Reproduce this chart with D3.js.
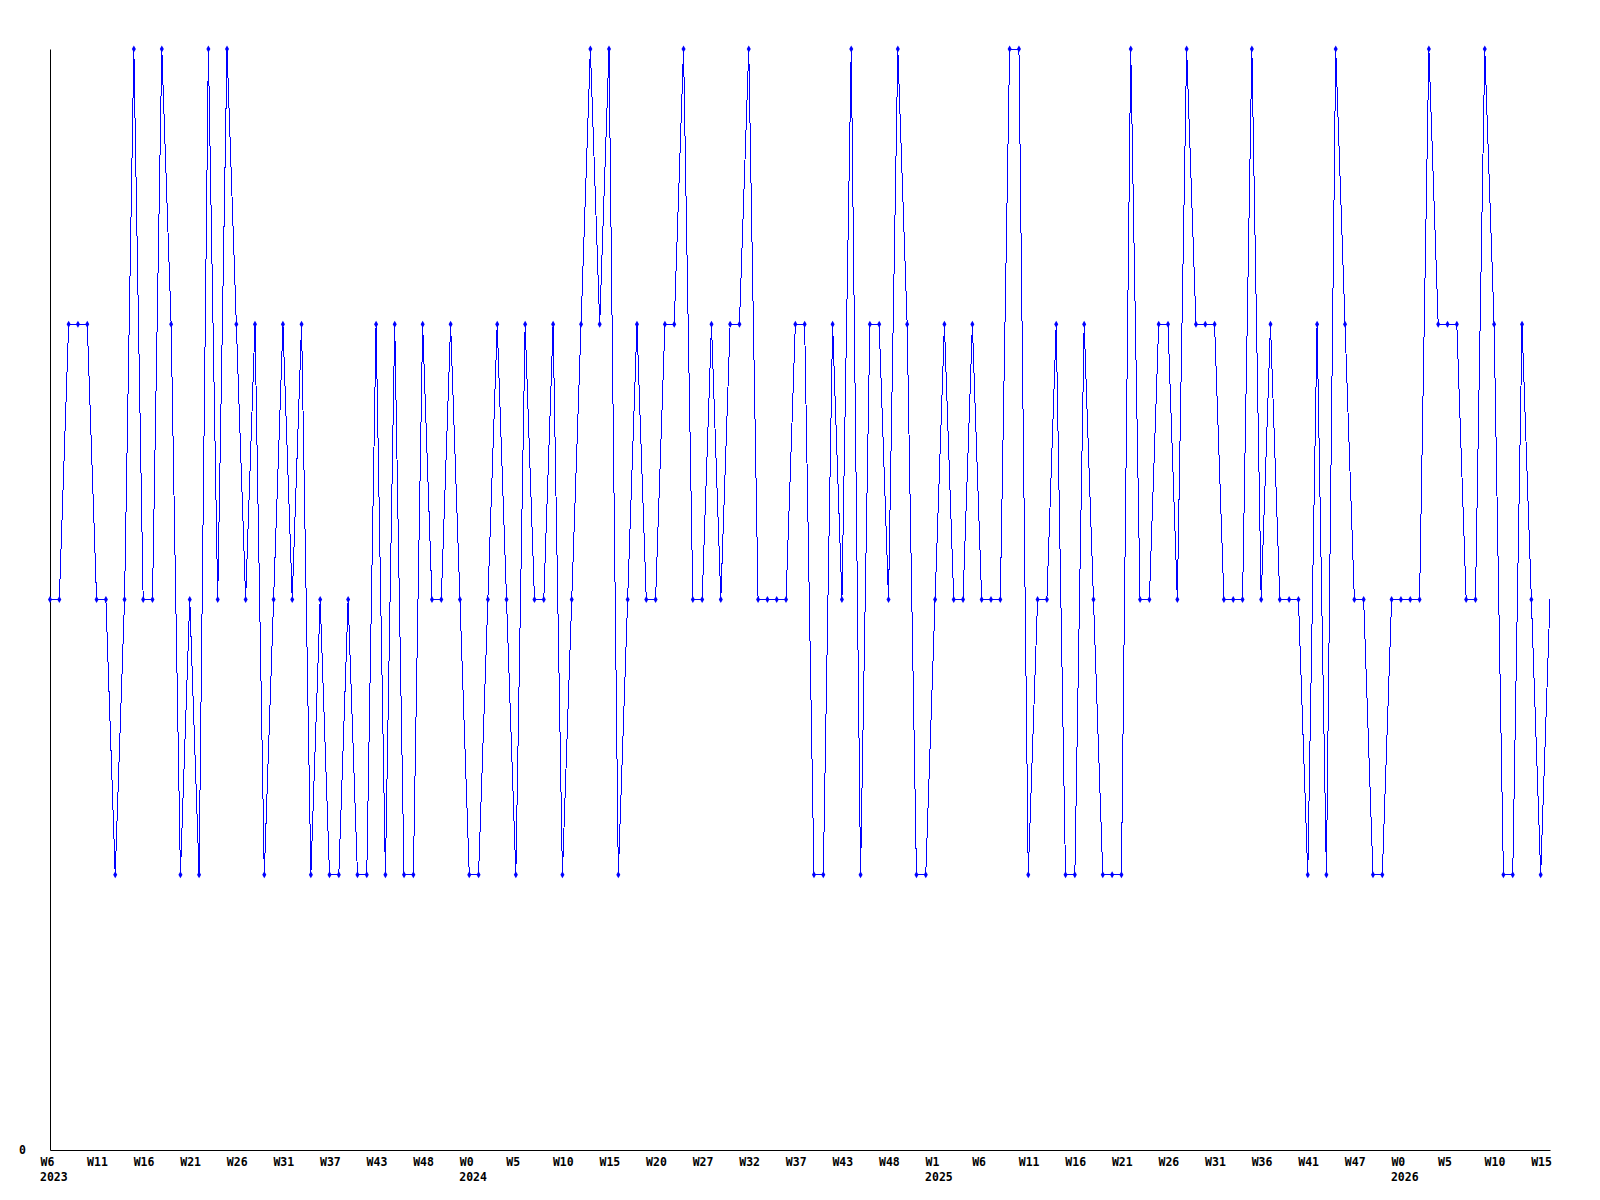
<!DOCTYPE html>
<html>
<head>
<meta charset="utf-8">
<script src="https://d3js.org/d3.v7.min.js"></script>
<style>
  body { margin: 0; background: #fff; }
  text { font-family: "DejaVu Sans Mono", monospace; font-weight: bold; font-size: 11.5px; fill: #000; }
</style>
</head>
<body>
<script>
// weekly values, one per point
var values = [
  2,2,3,3,3,2,2,1,2,4, 2,2,4,3,1,2,1,4,2,4,
  3,2,3,1,2,3,2,3,1,2, 1,1,2,1,1,3,1,3,1,1,
  3,2,2,3,2,1,1,2,3,2, 1,3,2,2,3,1,2,3,4,3,
  4,1,2,3,2,2,3,3,4,2, 2,3,2,3,3,4,2,2,2,2,
  3,3,1,1,3,2,4,1,3,3, 2,4,3,1,1,2,3,2,2,3,
  2,2,2,4,4,1,2,2,3,1, 1,3,2,1,1,1,4,2,2,3,
  3,2,4,3,3,3,2,2,2,4, 2,3,2,2,2,1,3,1,4,3,
  2,2,1,1,2,2,2,2,4,3, 3,3,2,2,4,3,1,1,3,2,
  1,2
];

// one label every 5 points
var tickLabels = ["W6","W11","W16","W21","W26","W31","W37","W43","W48",
  "W0","W5","W10","W15","W20","W27","W32","W37","W43","W48",
  "W1","W6","W11","W16","W21","W26","W31","W36","W41","W47",
  "W0","W5","W10","W15"];
var tickStep = 5;

// year shown under the first label of each year
var yearTicks = [0, 9, 19, 29];
var yearLabels = ["2023", "2024", "2025", "2026"];

var margin = {top: 49, right: 50, bottom: 50, left: 50},
    width = 1600 - margin.left - margin.right,
    height = 1200 - margin.top - margin.bottom;

var svg = d3.select("body")
  .append("svg")
    .attr("width", 1600)
    .attr("height", 1200)
  .append("g")
    .attr("transform", "translate(" + margin.left + "," + margin.top + ")");

// X: one step per point
var x = d3.scaleLinear()
  .domain([0, values.length - 1])
  .range([0, width]);

// Y: 0..4
var y = d3.scaleLinear()
  .domain([0, 4])
  .range([height, 0]);

// bottom axis, labels start 10px left of their point
var xAxis = svg.append("g")
  .attr("transform", "translate(0," + height + ")")
  .call(d3.axisBottom(x)
    .tickValues(tickLabels.map(function(d, i) { return i * tickStep; }))
    .tickFormat(function(d) { return tickLabels[d / tickStep]; })
    .tickSize(0)
    .tickPadding(8));
xAxis.select(".domain").attr("stroke", "#000");
xAxis.selectAll("text")
  .attr("text-anchor", "start")
  .attr("x", -10);
xAxis.attr("font-family", null).attr("font-size", null);

// years under the week labels
svg.append("g")
  .selectAll("text")
  .data(yearTicks)
  .enter()
  .append("text")
    .attr("x", function(d) { return x(d * tickStep) - 10; })
    .attr("y", height + 31)
    .text(function(d, i) { return yearLabels[i]; });

// left axis with only the zero label
var yAxis = svg.append("g")
  .call(d3.axisLeft(y)
    .tickValues([0])
    .tickFormat(d3.format("d"))
    .tickSize(0)
    .tickSizeOuter(0)
    .tickPadding(24));
yAxis.select(".domain").attr("stroke", "#000");
yAxis.attr("font-family", null).attr("font-size", null);

// the line
svg.append("path")
  .datum(values)
  .attr("fill", "none")
  .attr("stroke", "#0000ff")
  .attr("stroke-width", 1)
  .attr("shape-rendering", "crispEdges")
  .attr("d", d3.line()
    .x(function(d, i) { return x(i); })
    .y(function(d) { return y(d); }));

// point markers (last point has none)
svg.append("g")
  .selectAll("path")
  .data(values.slice(0, values.length - 1))
  .enter()
  .append("path")
    .attr("d", d3.symbol().type(d3.symbolDiamond).size(14))
    .attr("fill", "#0000ff")
    .attr("transform", function(d, i) { return "translate(" + x(i) + "," + y(d) + ")"; });
</script>
</body>
</html>
